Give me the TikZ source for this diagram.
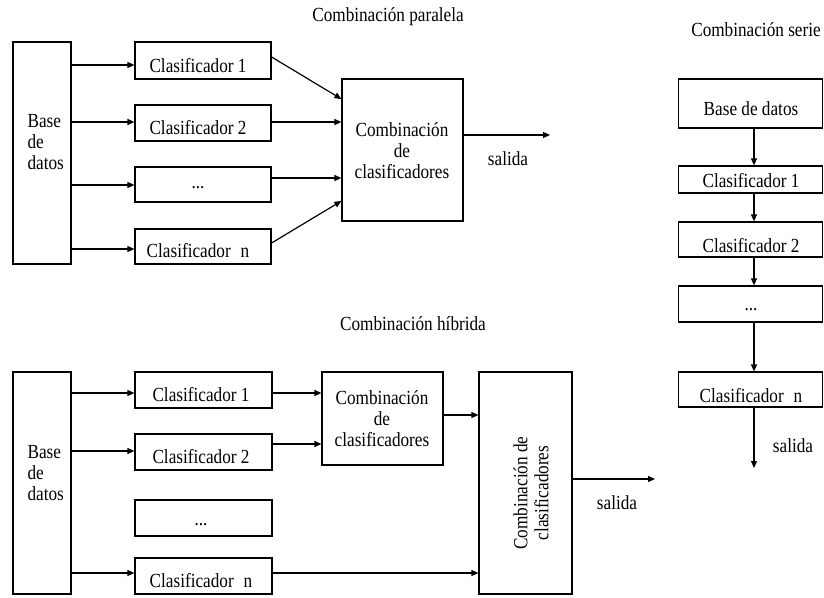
\documentclass[tikz,border=0pt]{standalone}
\usepackage{fontspec}
\setmainfont{Liberation Serif}[FakeStretch=0.86]
\usetikzlibrary{arrows.meta}
\begin{document}
\begin{tikzpicture}[x=1pt,y=-1pt,
  font=\fontsize{20}{21}\selectfont,
  line width=1.2pt,
  arr/.style={-{Triangle[length=7pt,width=6pt]}},
  box/.style={draw, inner sep=0pt},
  lbl/.style={inner sep=0pt, anchor=center},
  stack/.style={inner sep=0pt, align=center, anchor=center},
  baselbl/.style={inner sep=0pt, anchor=west}]
\useasboundingbox (0,0) rectangle (824,597);
% ================= PARALLEL =================
\node[lbl] (tpar) at (388,17) {Combinación paralela};
\node[box, minimum width=58pt, minimum height=222pt] (pbase) at (42,153) {};
\node[baselbl] (pbasel1) at (27,121) {Base};
\node[baselbl] (pbasel2) at (27,142) {de};
\node[baselbl] (pbasel3) at (27,163) {datos};

\node[box, minimum width=136pt, minimum height=37pt] (pc1) at (203,60.5) {};
\node[box, minimum width=136pt, minimum height=36pt] (pc2) at (203,123) {};
\node[box, minimum width=136pt, minimum height=35pt] (pc3) at (203,184.5) {};
\node[box, minimum width=136pt, minimum height=35pt] (pcn) at (203,246.5) {};
\node[lbl] (pc1t) at (198,66) {Clasificador 1};
\node[lbl] (pc2t) at (198,128) {Clasificador 2};
\node[lbl] (pc3t) at (198,188) {...};
\node[lbl] (pcnt) at (198,251) {Clasificador\enspace n};

\draw[arr] (pbase.east |- 0,65) -- (pc1.west |- 0,65);
\draw[arr] (pbase.east |- 0,122) -- (pc2.west |- 0,122);
\draw[arr] (pbase.east |- 0,185) -- (pc3.west |- 0,185);
\draw[arr] (pbase.east |- 0,249) -- (pcn.west |- 0,249);

\node[box, minimum width=121pt, minimum height=142pt] (pcomb) at (402.5,150) {};
\node[stack] (pcombt) at (402,151) {Combinación\\de\\clasificadores};

\draw[arr] (pc1.east |- 0,57) -- (pcomb.west |- 0,99);
\draw[arr] (pc2.east |- 0,122) -- (pcomb.west |- 0,122);
\draw[arr] (pc3.east |- 0,178) -- (pcomb.west |- 0,178);
\draw[arr] (pcn.east |- 0,243) -- (pcomb.west |- 0,201);

\coordinate (pout) at (550,135);
\draw[arr] (pcomb.east |- pout) -- (pout);
\node[lbl] (psal) at (508,159) {salida};

% ================= SERIAL =================
\node[lbl] (tser) at (756,30) {Combinación serie};
\node[box, minimum width=144pt, minimum height=49pt] (sbase) at (750.5,103.5) {};
\node[lbl] (sbaset) at (751,109) {Base de datos};
\node[box, minimum width=144pt, minimum height=27pt] (sc1) at (750.5,179.5) {};
\node[lbl] (sc1t) at (751,181) {Clasificador 1};
\node[box, minimum width=144pt, minimum height=35pt] (sc2) at (750.5,239.5) {};
\node[lbl] (sc2t) at (751,246) {Clasificador 2};
\node[box, minimum width=144pt, minimum height=36pt] (sc3) at (750.5,304) {};
\node[lbl] (sc3t) at (751,310) {...};
\node[box, minimum width=144pt, minimum height=35pt] (scn) at (750.5,389.5) {};
\node[lbl] (scnt) at (751,396) {Clasificador\enspace n};

\draw[arr] (sbase.south -| 754,0) -- (sc1.north -| 754,0);
\draw[arr] (sc1.south -| 754,0) -- (sc2.north -| 754,0);
\draw[arr] (sc2.south -| 754,0) -- (sc3.north -| 754,0);
\draw[arr] (sc3.south -| 754,0) -- (scn.north -| 754,0);
\coordinate (sout) at (754,468);
\draw[arr] (scn.south -| sout) -- (sout);
\node[lbl] (ssal) at (793,446) {salida};

% ================= HYBRID =================
\node[lbl] (thib) at (413,324) {Combinación híbrida};
\node[box, minimum width=58pt, minimum height=222pt] (hbase) at (42,483) {};
\node[baselbl] (hbasel1) at (27,452) {Base};
\node[baselbl] (hbasel2) at (27,473) {de};
\node[baselbl] (hbasel3) at (27,494) {datos};

\node[box, minimum width=137pt, minimum height=36pt] (hc1) at (203.5,390) {};
\node[box, minimum width=137pt, minimum height=36pt] (hc2) at (203.5,452) {};
\node[box, minimum width=137pt, minimum height=36pt] (hc3) at (203.5,518) {};
\node[box, minimum width=137pt, minimum height=36pt] (hcn) at (203.5,576) {};
\node[lbl] (hc1t) at (201,395) {Clasificador 1};
\node[lbl] (hc2t) at (201,457) {Clasificador 2};
\node[lbl] (hc3t) at (201,525) {...};
\node[lbl] (hcnt) at (201,581) {Clasificador\enspace n};

\draw[arr] (hbase.east |- 0,393) -- (hc1.west |- 0,393);
\draw[arr] (hbase.east |- 0,451) -- (hc2.west |- 0,451);
\draw[arr] (hbase.east |- 0,573) -- (hcn.west |- 0,573);

\node[box, minimum width=121pt, minimum height=93pt] (hcomb1) at (382.5,418.5) {};
\node[stack] (hcomb1t) at (382,419) {Combinación\\de\\clasificadores};

\draw[arr] (hc1.east |- 0,393) -- (hcomb1.west |- 0,393);
\draw[arr] (hc2.east |- 0,444) -- (hcomb1.west |- 0,444);

\node[box, minimum width=93pt, minimum height=222pt] (hcomb2) at (525.5,483) {};
\node[stack, rotate=90] (hcomb2t) at (531,493) {Combinación de\\clasificadores};

\draw[arr] (hcomb1.east |- 0,415) -- (hcomb2.west |- 0,415);
\draw[arr] (hcn.east |- 0,573) -- (hcomb2.west |- 0,573);

\coordinate (hout) at (655,479);
\draw[arr] (hcomb2.east |- hout) -- (hout);
\node[lbl] (hsal) at (617,503) {salida};
\end{tikzpicture}
\end{document}
